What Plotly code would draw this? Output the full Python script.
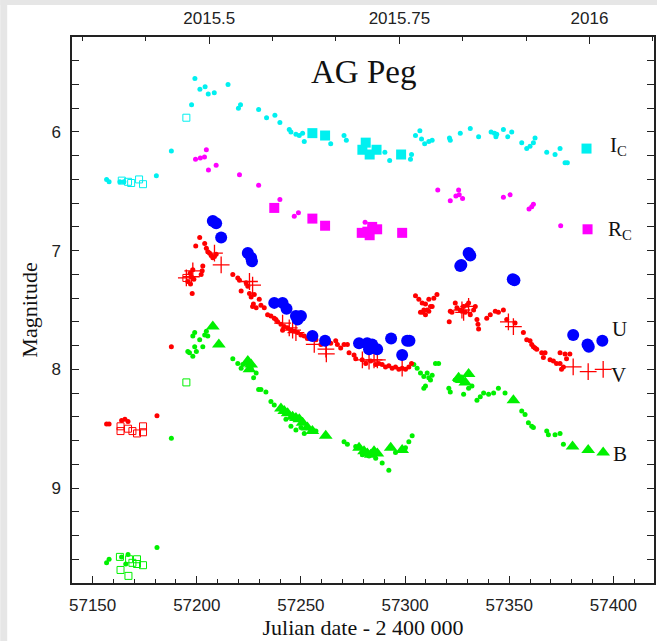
import plotly.graph_objects as go

# ---------------- data (JD - 2400000, magnitude) ----------------
ic_dot_jd = [57156.7, 57157.9, 57163.1, 57165.0, 57180.6, 57187.8, 57197.5, 57199.1, 57201.5, 57204.0,
             57205.5, 57208.4, 57215.0, 57220.0, 57221.0, 57229.7, 57233.5, 57237.5, 57239.9, 57244.4, 57245.2,
             57247.6, 57249.2, 57250.8, 57251.6, 57264.3, 57270.7, 57271.8, 57290.3, 57292.6, 57303.1,
             57302.6, 57305.0, 57307.1, 57307.9, 57309.4, 57311.4, 57313.0, 57321.3, 57321.7, 57326.5,
             57331.3, 57335.3, 57341.3, 57342.9, 57344.0, 57343.6, 57347.2, 57349.3, 57351.2, 57356.0,
             57358.4, 57360.0, 57361.6, 57362.4, 57368.0, 57372.0, 57374.4, 57376.8, 57377.9]
ic_dot_mag = [6.40, 6.42, 6.42, 6.42, 6.37, 6.16, 5.77, 5.55, 5.64, 5.62,
              5.68, 5.67, 5.60, 5.80, 5.77, 5.81, 5.88, 5.86, 5.92, 5.98, 6.00,
              6.02, 6.03, 6.01, 6.08, 6.10, 6.03, 6.07, 6.17, 6.24, 6.19,
              6.23, 6.03, 5.99, 6.06, 6.10, 6.08, 6.07, 6.05, 6.07, 6.01,
              5.97, 6.04, 6.00, 6.01, 6.02, 6.04, 5.98, 6.04, 6.00, 6.09,
              6.14, 6.12, 6.09, 6.05, 6.17, 6.19, 6.14, 6.26, 6.26]
ic_sq_jd = [57255.5, 57261.6, 57279.5, 57281.1, 57283.0, 57286.3, 57298.1, 57387.1]
ic_sq_mag = [6.01, 6.03, 6.15, 6.09, 6.19, 6.15, 6.19, 6.14]
ic_open_jd = [57164.0, 57167.0, 57168.5, 57172.3, 57174.2, 57195.0]
ic_open_mag = [6.41, 6.42, 6.43, 6.40, 6.44, 5.88]

rc_dot_jd = [57199.4, 57201.7, 57203.7, 57204.6, 57205.6, 57209.3, 57220.5, 57229.7, 57239.9, 57246.8,
             57248.8, 57280.8, 57315.7, 57321.7, 57324.4, 57325.7, 57326.0, 57327.6, 57347.2, 57350.4,
             57359.5, 57360.8, 57361.6, 57374.7]
rc_dot_mag = [6.23, 6.22, 6.21, 6.15, 6.32, 6.28, 6.36, 6.45, 6.57, 6.71,
              6.68, 6.76, 6.49, 6.58, 6.54, 6.49, 6.53, 6.56, 6.55, 6.53,
              6.65, 6.63, 6.61, 6.79]
rc_sq_jd = [57237.2, 57255.5, 57261.6, 57279.2, 57281.9, 57284.2, 57286.6, 57283.0, 57298.6, 57387.6]
rc_sq_mag = [6.64, 6.73, 6.79, 6.85, 6.84, 6.80, 6.82, 6.87, 6.85, 6.82]

u_jd = [57207.7, 57209.3, 57211.7, 57224.5, 57226.1, 57226.5, 57237.2, 57241.2, 57243.1, 57247.6,
        57250.0, 57248.4, 57255.5, 57261.6, 57277.9, 57281.8, 57284.2, 57286.6, 57282.7, 57293.3,
        57301.0, 57302.1, 57298.6, 57330.5, 57331.3, 57327.0, 57326.5, 57351.7, 57352.5, 57380.7,
        57387.6, 57388.2, 57394.7]
u_mag = [6.75, 6.77, 6.89, 7.02, 7.06, 7.09, 7.44, 7.44, 7.49, 7.55,
         7.55, 7.58, 7.72, 7.76, 7.78, 7.78, 7.79, 7.83, 7.83, 7.74,
         7.76, 7.76, 7.88, 7.02, 7.04, 7.12, 7.13, 7.24, 7.25, 7.71,
         7.79, 7.81, 7.76]

v_dot_jd = [57156.7, 57157.9, 57163.9, 57165.5, 57167.0, 57180.9, 57187.8,
            57201.4, 57199.5, 57203.8, 57204.6, 57205.3, 57206.1, 57206.9, 57207.7, 57208.5, 57209.3,
            57202.9, 57202.6, 57202.1, 57197.8, 57197.4, 57195.7, 57198.1, 57196.8, 57197.0, 57198.6,
            57217.3, 57219.7, 57220.5, 57221.3, 57223.7, 57224.5, 57225.3, 57226.1, 57226.8, 57228.5, 57230.0,
            57227.6, 57227.2, 57230.8, 57232.4, 57234.0, 57235.6, 57237.2, 57238.0, 57238.8, 57240.4,
            57241.2, 57242.0, 57243.6, 57245.2, 57246.8, 57248.4, 57250.0, 57251.6, 57253.1, 57254.8,
            57257.2, 57259.6, 57264.3, 57266.7, 57267.5, 57269.1, 57270.7, 57272.3, 57273.1, 57275.5,
            57276.3, 57279.4, 57281.1, 57283.5, 57285.9, 57287.4, 57289.0, 57290.6, 57292.2, 57293.8,
            57295.4, 57297.0, 57298.6, 57300.2, 57301.8, 57303.1,
            57305.0, 57306.6, 57308.2, 57309.8, 57311.4, 57313.8, 57315.3, 57307.4, 57309.8, 57309.0,
            57313.0, 57310.6, 57312.2, 57308.5, 57311.4,
            57321.7, 57322.5, 57324.1, 57324.9, 57326.5, 57327.3, 57328.1, 57328.9, 57329.7, 57330.5,
            57331.3, 57332.9, 57333.7, 57334.5, 57335.3, 57335.0, 57321.2,
            57339.2, 57340.9, 57343.3, 57344.8, 57347.2, 57348.8, 57352.8,
            57356.8, 57358.4, 57360.0, 57360.8, 57361.6, 57362.4, 57363.2, 57365.6, 57367.2, 57366.4,
            57369.6, 57371.2, 57372.7, 57374.4, 57375.1, 57376.0, 57374.4, 57376.8, 57379.1, 57377.5]
v_dot_mag = [8.46, 8.46, 8.43, 8.42, 8.44, 8.39, 7.81,
             6.89, 6.96, 6.94, 6.98, 7.01, 7.02, 7.04, 7.06, 7.05, 7.03,
             7.13, 7.17, 7.20, 7.36, 7.22, 7.26, 7.16, 7.19, 7.28, 7.24,
             7.20, 7.23, 7.25, 7.34, 7.27, 7.30, 7.36, 7.39, 7.47, 7.48, 7.41,
             7.37, 7.45, 7.46, 7.48, 7.54, 7.55, 7.57, 7.58, 7.60, 7.62,
             7.67, 7.64, 7.65, 7.67, 7.68, 7.69, 7.71, 7.72, 7.74, 7.71,
             7.75, 7.79, 7.78, 7.76, 7.79, 7.82, 7.79, 7.79, 7.86, 7.88,
             7.91, 7.92, 7.95, 7.93, 7.96, 7.95, 7.96, 7.98, 7.97, 7.99,
             7.98, 8.00, 7.99, 8.00, 7.98, 7.95,
             7.38, 7.41, 7.44, 7.45, 7.41, 7.40, 7.37, 7.52, 7.54, 7.50,
             7.47, 7.50, 7.47, 7.52, 7.51,
             7.51, 7.52, 7.44, 7.48, 7.50, 7.51, 7.47, 7.52, 7.46, 7.44,
             7.54, 7.50, 7.47, 7.58, 7.66, 7.62, 7.60,
             7.57, 7.54, 7.51, 7.52, 7.50, 7.58, 7.61,
             7.69, 7.75, 7.76, 7.79, 7.81, 7.82, 7.83, 7.86, 7.86, 7.90,
             7.92, 7.93, 7.95, 7.95, 8.00, 7.98, 7.86, 7.87, 7.87, 7.91]
v_cross_jd = [57198.1, 57197.4, 57195.0, 57208.5, 57211.7, 57225.3, 57226.8, 57241.2, 57244.4, 57246.0,
              57247.6, 57256.4, 57262.0, 57262.2, 57279.5, 57282.7, 57285.1, 57286.7, 57298.6, 57327.3,
              57330.5, 57328.1, 57349.6, 57352.0, 57380.7, 57387.9, 57395.1]
v_cross_mag = [7.17, 7.22, 7.23, 7.02, 7.12, 7.26, 7.29, 7.61, 7.65, 7.67,
               7.69, 7.79, 7.83, 7.87, 7.92, 7.93, 7.92, 7.92, 7.99, 7.50,
               7.47, 7.52, 7.60, 7.64, 7.98, 8.02, 8.00]
v_open_jd = [57163.4, 57163.4, 57167.0, 57169.1, 57171.3, 57174.2, 57174.2, 57195.0]
v_open_mag = [8.48, 8.52, 8.50, 8.52, 8.54, 8.48, 8.53, 7.23]

b_dot_jd = [57156.7, 57157.9, 57163.9, 57167.0, 57165.9, 57180.9, 57187.8,
            57199.0, 57198.1, 57199.0, 57199.8, 57195.7, 57196.5, 57198.1, 57201.4, 57202.9, 57205.3,
            57204.6, 57203.8, 57217.3, 57219.7, 57221.3, 57222.1, 57223.7, 57226.1, 57227.3, 57228.5,
            57229.7, 57230.8, 57233.2, 57235.6, 57237.2,
            57242.8, 57245.2, 57247.6, 57250.0, 57251.6, 57254.8, 57257.2, 57270.7, 57272.3,
            57276.3, 57279.5, 57282.7, 57285.9, 57289.0, 57292.2, 57295.4, 57300.2, 57301.8, 57303.4,
            57304.2, 57305.8, 57307.4, 57309.0, 57309.8, 57311.4, 57313.0, 57314.6, 57310.6, 57309.0,
            57312.2, 57316.1,
            57321.0, 57321.7, 57324.1, 57328.1, 57330.5, 57332.1, 57334.5, 57336.1, 57337.7, 57340.1,
            57342.5, 57344.8, 57348.0, 57356.0, 57357.6, 57359.2, 57360.8, 57361.6, 57368.0, 57368.8,
            57372.0, 57374.4, 57376.0]
b_dot_mag = [9.63, 9.60, 9.58, 9.56, 9.64, 9.50, 8.58,
             7.69, 7.72, 7.81, 7.85, 7.85, 7.86, 7.89, 7.75, 7.81, 7.72,
             7.68, 7.71, 7.91, 7.95, 7.99, 7.96, 7.95, 7.99, 8.07, 8.03,
             8.17, 8.17, 8.19, 8.27, 8.30,
             8.42, 8.48, 8.51, 8.49, 8.54, 8.51, 8.52, 8.61, 8.63,
             8.65, 8.72, 8.73, 8.75, 8.79, 8.85, 8.70, 8.66, 8.61, 8.56,
             7.96, 7.99, 8.03, 8.06, 8.14, 8.07, 8.05, 7.95, 8.03, 8.16,
             8.09, 7.95,
             8.16, 8.19, 8.09, 8.21, 8.16, 8.14, 8.26, 8.23, 8.20, 8.21,
             8.20, 8.16, 8.20, 8.35, 8.38, 8.45, 8.48, 8.49, 8.52, 8.55,
             8.55, 8.54, 8.63]
b_tri_jd = [57207.7, 57210.6, 57224.5, 57226.1, 57225.3, 57240.4, 57242.0, 57243.6, 57246.0, 57247.6,
            57249.2, 57250.8, 57253.1, 57255.5, 57261.9, 57277.9, 57280.3, 57281.9, 57283.5, 57285.1,
            57286.7, 57293.1, 57298.6, 57325.7, 57330.5, 57328.9, 57327.3, 57352.0, 57380.4, 57387.9,
            57395.1]
b_tri_mag = [7.64, 7.79, 7.93, 7.96, 8.00, 8.33, 8.35, 8.37, 8.40, 8.41,
             8.42, 8.45, 8.49, 8.52, 8.56, 8.66, 8.69, 8.71, 8.72, 8.69,
             8.71, 8.66, 8.68, 8.07, 8.04, 8.11, 8.09, 8.26, 8.65, 8.68,
             8.70]
b_open_jd = [57163.1, 57163.4, 57167.5, 57167.2, 57169.1, 57171.3, 57171.3, 57174.2, 57195.0]
b_open_mag = [9.58, 9.69, 9.60, 9.74, 9.63, 9.60, 9.64, 9.65, 8.11]

x_tick_vals = [57150, 57200, 57250, 57300, 57350, 57400]
y_tick_vals = [6, 7, 8, 9]
year_tick_vals = [2015.5, 2015.75, 2016.0]
year_tick_text = ["2015.5", "2015.75", "2016"]

band_labels = ["I<sub>C</sub>", "R<sub>C</sub>", "U", "V", "B"]
band_label_mag = [6.12, 6.83, 7.66, 8.05, 8.71]
band_label_jd = [57397.6, 57396.6, 57398.2, 57397.8, 57398.8]

# ---------------- styling ----------------
CYAN = "#00F0F0"
MAG = "#FF00FF"
BLUE = "#0000FF"
RED = "#FF0000"
GREEN = "#00F000"
SANS = "Liberation Sans, Arial, sans-serif"
SERIF = "Liberation Serif, Times New Roman, serif"

X0, X1 = 57140.1, 57419.5
JD_2015 = 57023.5


def jd_to_year(jd):
    return 2015.0 + (jd - JD_2015) / 365.0


fig = go.Figure()


def add(x, y, color, symbol, size, lw=0, open_=False):
    marker = dict(color=color, symbol=symbol, size=size)
    if open_ or "thin" in symbol:
        marker["line"] = dict(color=color, width=lw)
    else:
        marker["line"] = dict(width=0)
    fig.add_trace(go.Scatter(x=x, y=y, mode="markers", marker=marker,
                             showlegend=False, hoverinfo="skip"))


add(ic_dot_jd, ic_dot_mag, CYAN, "circle", 5)
add(ic_sq_jd, ic_sq_mag, CYAN, "square", 10)
add(ic_open_jd, ic_open_mag, CYAN, "square-open", 7, 1, True)
add(rc_dot_jd, rc_dot_mag, MAG, "circle", 5)
add(rc_sq_jd, rc_sq_mag, MAG, "square", 10)
add(b_dot_jd, b_dot_mag, GREEN, "circle", 5)
add(b_tri_jd, b_tri_mag, GREEN, "triangle-up", 12)
add(b_open_jd, b_open_mag, GREEN, "square-open", 7, 1, True)
add(v_dot_jd, v_dot_mag, RED, "circle", 5)
add(v_cross_jd, v_cross_mag, RED, "cross-thin", 12, 1.3)
add(v_open_jd, v_open_mag, RED, "square-open", 7, 1, True)
add(u_jd, u_mag, BLUE, "circle", 12)

# invisible trace on the top (year) axis
fig.add_trace(go.Scatter(x=[jd_to_year(X0), jd_to_year(X1)], y=[6, 6], xaxis="x2",
                         mode="markers", marker=dict(opacity=0), showlegend=False,
                         hoverinfo="skip"))

for txt, m, j in zip(band_labels, band_label_mag, band_label_jd):
    fig.add_annotation(x=j, y=m, xref="x", yref="y", text=txt, showarrow=False,
                       xanchor="left", yanchor="middle",
                       font=dict(family=SERIF, size=21, color="#111"))

fig.add_annotation(x=0.5, y=0.935, xref="paper", yref="paper", text="AG Peg", showarrow=False,
                   xanchor="center", yanchor="middle", font=dict(family=SERIF, size=33, color="#111"))

# grey outer strips (left and top)
W, H = 659, 641
L, R, T, B = 72, 3, 37, 58
pw, ph = W - L - R, H - T - B
fig.add_shape(type="rect", xref="paper", yref="paper", x0=(0 - L) / pw, x1=(7 - L) / pw,
              y0=-B / ph, y1=1 + T / ph, fillcolor="#E6E6E6", line_width=0, layer="above")
fig.add_shape(type="rect", xref="paper", yref="paper", x0=(0 - L) / pw, x1=(W - L) / pw,
              y0=1 + (T - 5) / ph, y1=1 + T / ph, fillcolor="#E6E6E6", line_width=0, layer="above")

axis_common = dict(showline=True, linecolor="#222", linewidth=1.5, showgrid=False, zeroline=False,
                   ticks="inside", ticklen=7, tickwidth=1.2, tickcolor="#222",
                   tickfont=dict(family=SANS, size=17, color="#222"))

fig.update_layout(
    width=W, height=H, margin=dict(l=L, r=R, t=T, b=B),
    paper_bgcolor="white", plot_bgcolor="white",
    xaxis=dict(range=[X0, X1], tickmode="array", tickvals=x_tick_vals,
               ticktext=[str(v) for v in x_tick_vals], mirror=False,
               minor=dict(dtick=10, tick0=57150, ticks="inside", ticklen=4, tickcolor="#222"),
               title=dict(text="Julian date - 2 400 000", font=dict(family=SERIF, size=22, color="#111"),
                          standoff=4),
               ticklabelstandoff=6, **axis_common),
    xaxis2=dict(range=[jd_to_year(X0), jd_to_year(X1)], overlaying="x", side="top", anchor="y",
                tickmode="array", tickvals=year_tick_vals, ticktext=year_tick_text,
                minor=dict(dtick=1 / 12, tick0=2015.0, ticks="inside", ticklen=4, tickcolor="#222"),
                ticklabelstandoff=4, **axis_common),
    yaxis=dict(range=[9.8, 5.2], tickmode="array", tickvals=y_tick_vals, mirror="allticks",
               minor=dict(dtick=0.2, tick0=5.0, ticks="inside", ticklen=4, tickcolor="#222"),
               title=dict(text="Magnitude", font=dict(family=SERIF, size=22, color="#111"), standoff=8),
               ticklabelstandoff=6, **axis_common),
)

fig.write_html("out.html")
